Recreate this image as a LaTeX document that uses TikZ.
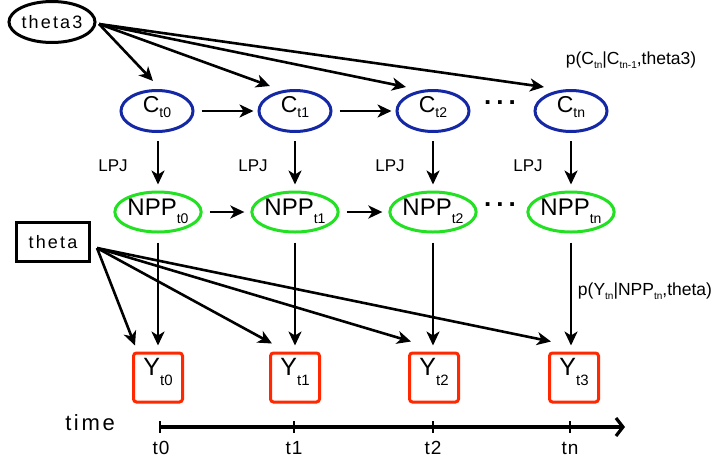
\documentclass[tikz,border=0pt]{standalone}
\usepackage{fontspec}
\setmainfont{Liberation Sans}
\newfontfamily\spaced[LetterSpace=12]{Liberation Sans}
\newfontfamily\lspaced[LetterSpace=6]{Liberation Sans}
\usetikzlibrary{arrows.meta,shapes.geometric}
\definecolor{cblue}{RGB}{20,40,165}
\definecolor{cgreen}{RGB}{34,224,34}
\definecolor{cred}{RGB}{255,40,0}
% subscripts: lowering, size
\newcommand\csub[1]{\raisebox{-5pt}{\fontsize{14}{14}\selectfont #1}}
\newcommand\nsub[1]{\raisebox{-8pt}{\fontsize{14}{14}\selectfont #1}}
\newcommand\ysub[1]{\raisebox{-10pt}{\fontsize{15}{15}\selectfont #1}}
\newcommand\smsub[1]{\raisebox{-4pt}{\fontsize{10}{10}\selectfont #1}}
% text whose baseline sits a given distance below the node centre
\newcommand\basedown[2]{\raisebox{-#1}[0pt][0pt]{#2}}
\begin{document}
\begin{tikzpicture}[x=1pt,y=-1pt,
  cnode/.style={ellipse, draw=cblue, line width=3pt, minimum width=72pt, minimum height=41pt, inner sep=0pt, font=\fontsize{23}{23}\selectfont},
  nnode/.style={ellipse, draw=cgreen, line width=3pt, minimum width=71pt, minimum height=40pt, inner sep=0pt, font=\fontsize{24}{24}\selectfont},
  ynode/.style={rectangle, rounded corners=3pt, draw=cred, line width=3pt, minimum width=49pt, minimum height=49pt, inner sep=0pt, font=\fontsize{25}{25}\selectfont},
  arr/.style={-{Stealth[length=14pt,width=13pt,inset=4pt]}, line width=2.6pt},
  lbl/.style={font=\fontsize{17}{17}\selectfont},
  plbl/.style={font=\fontsize{17.5}{17.5}\selectfont},
  dots/.style={font=\fontsize{26}{26}\bfseries, anchor=base},
  tlbl/.style={font={\fontsize{19}{19}\lspaced}}
]
\useasboundingbox (0,0) rectangle (714,464);

% parameter nodes
\node[ellipse, draw, line width=3pt, minimum width=79pt, minimum height=41pt, inner sep=0pt, font={\fontsize{18}{18}\spaced}] (t3) at (52,22) {theta3};
\node[rectangle, draw, line width=3pt, minimum width=73pt, minimum height=39pt, inner sep=0pt, font={\fontsize{18}{18}\spaced}] (th) at (53,242) {theta};
\coordinate (t3s) at (99,24);
\coordinate (ths) at (97,248);

% C row
\node[cnode] (c0) at (157,111) {\basedown{1pt}{C\csub{t0}}};
\node[cnode] (c1) at (295,111) {\basedown{1pt}{C\csub{t1}}};
\node[cnode] (c2) at (433,111) {\basedown{1pt}{C\csub{t2}}};
\node[cnode] (cn) at (571,111) {\basedown{1pt}{C\csub{tn}}};

% NPP row
\node[nnode] (n0) at (158,212) {\basedown{3pt}{NPP\nsub{t0}}};
\node[nnode] (n1) at (295,212) {\basedown{3pt}{NPP\nsub{t1}}};
\node[nnode] (n2) at (433,212) {\basedown{3pt}{NPP\nsub{t2}}};
\node[nnode] (nn) at (571,212) {\basedown{3pt}{NPP\nsub{tn}}};

% Y row
\node[ynode] (y0) at (158,377.5) {\basedown{-2.5pt}{Y\ysub{t0}}};
\node[ynode] (y1) at (295,377.5) {\basedown{-2.5pt}{Y\ysub{t1}}};
\node[ynode] (y2) at (434,377.5) {\basedown{-2.5pt}{Y\ysub{t2}}};
\node[ynode] (y3) at (574,377.5) {\basedown{-2.5pt}{Y\ysub{t3}}};

% dots
\node[dots] (d1) at (500,104) {.\hspace{5pt}.\hspace{5pt}.};
\node[dots] (d2) at (500,206) {.\hspace{5pt}.\hspace{5pt}.};

% LPJ labels
\node[lbl] (l0) at (113,166) {LPJ};
\node[lbl] (l1) at (253,166) {LPJ};
\node[lbl] (l2) at (390,166) {LPJ};
\node[lbl] (l3) at (528,166) {LPJ};

% probability labels
\node[plbl] (pc) at (631,60) {p(C\smsub{tn}|C\smsub{tn-1},theta3)};
\node[plbl] (py) at (645,291) {p(Y\smsub{tn}|NPP\smsub{tn},theta)};

% theta3 arrows
\draw[arr] (t3s) -- ([xshift=-4pt,yshift=8pt]c0.north);
\draw[arr] (t3s) -- ([xshift=-25pt,yshift=3pt]c1.north);
\draw[arr] (t3s) -- ([xshift=-27pt,yshift=2pt]c2.north);
\draw[arr] (t3s) -- ([xshift=-27pt,yshift=2pt]cn.north);

% horizontal arrows
\draw[arr, shorten <=7pt, shorten >=4pt] (c0) -- (c1);
\draw[arr, shorten <=7pt, shorten >=4pt] (c1) -- (c2);
\draw[arr, shorten <=7pt, shorten >=6pt] (n0) -- (n1);
\draw[arr, shorten <=7pt, shorten >=6pt] (n1) -- (n2);

% vertical arrows C -> NPP
\draw[arr, shorten <=8pt, shorten >=6pt] (c0.south -| n0) -- (n0.north);
\draw[arr, shorten <=8pt, shorten >=6pt] (c1) -- (n1);
\draw[arr, shorten <=8pt, shorten >=6pt] (c2) -- (n2);
\draw[arr, shorten <=8pt, shorten >=6pt] (cn) -- (nn);

% vertical arrows NPP -> Y
\draw[arr, shorten <=9pt, shorten >=6pt] (n0) -- (y0);
\draw[arr, shorten <=9pt, shorten >=6pt] (n1) -- (y1);
\draw[arr, shorten <=9pt, shorten >=6pt] (n2) -- (n2 |- y2.north);
\draw[arr, shorten <=9pt, shorten >=6pt] (nn) -- (nn |- y3.north);

% theta arrows
\draw[arr] (ths) -- ([xshift=3pt,yshift=6pt]y0.north west);
\draw[arr] (ths) -- ([xshift=3pt,yshift=8pt]y1.north west);
\draw[arr] (ths) -- ([xshift=3pt,yshift=10pt]y2.north west);
\draw[arr] (ths) -- ([xshift=3pt,yshift=10pt]y3.north west);

% time axis
\node[font={\fontsize{22}{22}\spaced}] (time) at (90,423) {time};
\coordinate (a0) at (160,427);
\coordinate (a1) at (294,427);
\coordinate (a2) at (433,427);
\coordinate (a3) at (570,427);
\coordinate (ae) at (625,427);
\draw[line width=3.2pt, -{Straight Barb[length=7pt,width=18pt]}] (a0) -- (ae);
\foreach \p in {a0,a1,a2,a3}{
  \draw[line width=2.6pt] ([yshift=6pt]\p) -- ([yshift=-6pt]\p);
}
\node[tlbl] (tl0) at (161,448) {t0};
\node[tlbl] (tl1) at (294,448) {t1};
\node[tlbl] (tl2) at (433,448) {t2};
\node[tlbl] (tl3) at (570,448) {tn};
\end{tikzpicture}
\end{document}
